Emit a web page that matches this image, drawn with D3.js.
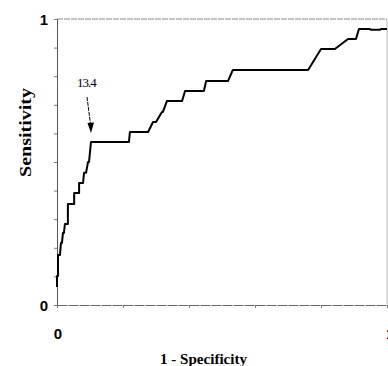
<!DOCTYPE html>
<html>
<head>
<meta charset="utf-8">
<script src="https://cdn.jsdelivr.net/npm/d3@7"></script>
<style>
  body { margin: 0; background: #fff; }
  svg { display: block; }
  text { fill: #000; }
</style>
</head>
<body>
<div id="chart"></div>
<script>
// ROC curve: 1 - specificity, sensitivity
const fpr = [0, 0, 0.003, 0.003, 0.009, 0.012, 0.015, 0.018, 0.021, 0.024, 0.033, 0.033, 0.052, 0.052,
  0.067, 0.067, 0.079, 0.082, 0.088, 0.094, 0.097, 0.1, 0.103, 0.218, 0.221, 0.276, 0.291, 0.3, 0.318,
  0.321, 0.333, 0.379, 0.388, 0.445, 0.452, 0.518, 0.533, 0.761, 0.8, 0.842, 0.882, 0.906, 0.915,
  0.948, 0.951, 0.979, 0.982, 1];
const tpr = [0.063, 0.101, 0.101, 0.175, 0.175, 0.217, 0.217, 0.252, 0.252, 0.283, 0.283, 0.353, 0.353, 0.392,
  0.392, 0.427, 0.427, 0.462, 0.462, 0.5, 0.5, 0.535, 0.570, 0.570, 0.605, 0.605, 0.640, 0.640, 0.675,
  0.675, 0.713, 0.713, 0.748, 0.748, 0.783, 0.783, 0.822, 0.822, 0.895, 0.895, 0.930, 0.930, 0.965,
  0.965, 0.962, 0.962, 0.965, 0.965];
const yTicks = [0, 1];
const xTicks = [0, 1];
const cutoffLabel = "13.4";
const cutoffIndex = 22;

const width = 388, height = 366;
const margin = { top: 19, right: 1, bottom: 61, left: 57 };

const svg = d3.select("#chart").append("svg")
  .attr("width", width)
  .attr("height", height);

const x = d3.scaleLinear().domain([0, 1]).range([margin.left, width - margin.right]);
const y = d3.scaleLinear().domain([0, 1]).range([height - margin.bottom, margin.top]);

// frame
svg.append("line")
  .attr("x1", x(0)).attr("x2", x(1)).attr("y1", y(1)).attr("y2", y(1))
  .attr("stroke", "#888").attr("stroke-width", 1).attr("stroke-dasharray", "6,1");
svg.append("line")
  .attr("x1", x(1)).attr("x2", x(1)).attr("y1", y(1)).attr("y2", y(0))
  .attr("stroke", "#bbb").attr("stroke-width", 1);

// y axis
const yAxis = d3.axisLeft(y).tickValues(d3.range(0, 1.01, 0.1)).tickSize(3).tickFormat("");
svg.append("g")
  .attr("transform", `translate(${x(0)},0)`)
  .call(yAxis)
  .call(g => g.select(".domain").attr("stroke", "#555"))
  .call(g => g.selectAll(".tick line").attr("stroke", "#777"));

// x axis
const xAxis = d3.axisBottom(x).tickValues(d3.range(0, 1.01, 0.2)).tickSize(3).tickSizeOuter(0).tickFormat("");
svg.append("g")
  .attr("transform", `translate(0,${y(0)})`)
  .call(xAxis)
  .call(g => g.select(".domain").attr("stroke", "#666").attr("stroke-dasharray", "10,1"))
  .call(g => g.selectAll(".tick line").attr("stroke", "#777"));

svg.selectAll(".ylab")
  .data(yTicks)
  .join("text")
  .attr("x", x(0) - 9)
  .attr("y", d => y(d) + 6)
  .attr("text-anchor", "end")
  .attr("font-family", "Liberation Sans, Arial, sans-serif")
  .attr("font-weight", "bold")
  .attr("font-size", 15)
  .text(d => d);

// the "1" at the right end is cut off by the edge in the original
svg.selectAll(".xlab")
  .data(xTicks)
  .join("text")
  .attr("x", d => d === 0 ? x(d) + 1 : x(d) - 1)
  .attr("y", y(0) + 34)
  .attr("text-anchor", d => d === 0 ? "middle" : "start")
  .attr("font-family", "Liberation Sans, Arial, sans-serif")
  .attr("font-weight", "bold")
  .attr("font-size", 15)
  .text(d => d);

// axis titles
svg.append("text")
  .attr("x", 160)
  .attr("y", 364)
  .attr("font-family", "Liberation Serif, Times New Roman, serif")
  .attr("font-weight", "bold")
  .attr("font-size", 15)
  .attr("textLength", 87)
  .attr("lengthAdjust", "spacingAndGlyphs")
  .text("1 - Specificity");

svg.append("text")
  .attr("transform", "translate(31,177) rotate(-90)")
  .attr("font-family", "Liberation Serif, Times New Roman, serif")
  .attr("font-weight", "bold")
  .attr("font-size", 16)
  .attr("textLength", 89)
  .attr("lengthAdjust", "spacingAndGlyphs")
  .text("Sensitivity");

// curve
const pts = fpr.map((f, i) => [f, tpr[i]]);
svg.append("path")
  .datum(pts)
  .attr("fill", "none")
  .attr("stroke", "#000")
  .attr("stroke-width", 2)
  .attr("stroke-linejoin", "round")
  .attr("d", d3.line().x(d => x(d[0])).y(d => y(d[1])));

// cutoff annotation
const cx = x(fpr[cutoffIndex]), cy = y(tpr[cutoffIndex]);
svg.append("text")
  .attr("x", cx - 14)
  .attr("y", cy - 55)
  .attr("font-family", "Liberation Serif, Times New Roman, serif")
  .attr("font-size", 13)
  .attr("letter-spacing", -1)
  .text(cutoffLabel);
svg.append("line")
  .attr("x1", cx - 4).attr("y1", cy - 45)
  .attr("x2", cx - 0.5).attr("y2", cy - 18)
  .attr("stroke", "#000").attr("stroke-width", 1)
  .attr("stroke-dasharray", "4,1");
svg.append("path")
  .attr("d", `M${cx},${cy - 9} L${cx - 3.5},${cy - 19} L${cx + 3},${cy - 19.5} Z`)
  .attr("fill", "#000");
</script>
</body>
</html>
